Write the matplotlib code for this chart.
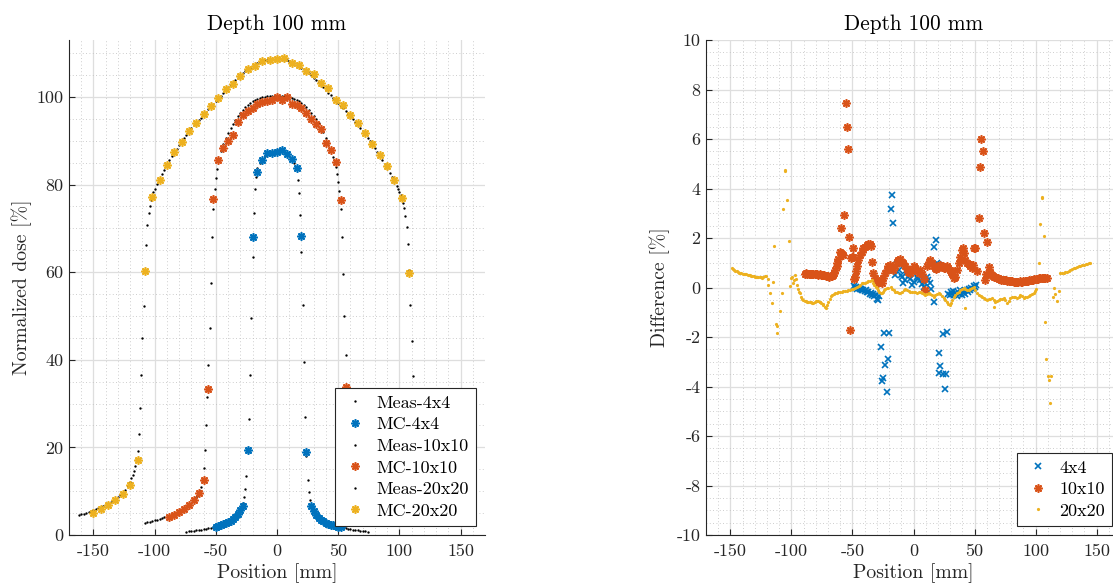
import numpy as np
import matplotlib
matplotlib.use("Agg")
import matplotlib.pyplot as plt
from matplotlib.ticker import MultipleLocator

plt.rcParams['font.family'] = ['cmr10', 'DejaVu Serif']
plt.rcParams['axes.unicode_minus'] = False
plt.rcParams['mathtext.fontset'] = 'cm'

BLUE = '#0072BD'
ORANGE = '#D95319'
YELLOW = '#EDB120'
DARK = '#262626'

# ---- dose profiles (position in mm, dose in %) ----
meas20_x = np.concatenate([np.arange(-162, -121, 2), np.arange(-121, -99, 1),
                           np.arange(-98, 99, 2), np.arange(99, 122, 1),
                           np.arange(122, 163, 2)])
meas20_y = [4.5, 4.7, 4.85, 5.0, 5.2, 5.4, 5.6, 5.85, 6.1, 6.35,
            6.6, 6.9, 7.2, 7.5, 7.85, 8.2, 8.6, 9.1, 9.6, 10.3, 11.1,
            11.6, 12.2, 12.9, 13.7, 14.6, 15.7, 17.2, 19.2, 23.0, 29.0,
            36.5, 45.0, 52.2, 60.0, 66.2, 70.7, 73.4, 75.2, 76.5, 77.5, 78.3, 79.0,
            80.2, 81.1, 82.3, 83.4, 84.5, 85.5, 86.5, 87.4, 88.2, 89.0,
            89.8, 90.6, 91.4, 92.1, 92.8, 93.5, 94.1, 94.7, 95.3, 95.9,
            96.5, 97.2, 97.8, 98.4, 99.1, 99.7, 100.3, 101.0, 101.6, 102.2,
            102.8, 103.3, 103.9, 104.4, 104.9, 105.4, 105.9, 106.3, 106.7, 107.1,
            107.4, 107.7, 108.0, 108.2, 108.4, 108.5, 108.6, 108.7, 108.7,
            108.7,
            108.7, 108.6, 108.5, 108.4, 108.2, 108.0, 107.7, 107.4, 107.1, 106.7,
            106.3, 105.9, 105.4, 104.9, 104.4, 103.9, 103.3, 102.8, 102.2, 101.6,
            101.0, 100.4, 99.8, 99.2, 98.6, 98.0, 97.4, 96.8, 96.1, 95.5,
            94.9, 94.3, 93.6, 92.9, 92.2, 91.5, 90.7, 89.9, 89.1, 88.3,
            87.4, 86.5, 85.6, 84.7, 83.7, 82.7, 81.7, 80.6, 79.6,
            79.0, 78.4, 77.6, 76.7, 75.8, 74.6, 72.9, 70.3, 66.5, 60.5,
            52.5, 44.2, 36.2, 28.5, 22.5, 18.8, 16.8, 15.4, 14.4, 13.5,
            12.7, 12.0, 11.4,
            11.0, 10.2, 9.5, 9.0, 8.5, 8.1, 7.8, 7.4, 7.1, 6.8,
            6.5, 6.3, 6.0, 5.8, 5.5, 5.3, 5.1, 4.9, 4.8, 4.6, 4.4]

meas10_x = np.concatenate([np.arange(-108, -65, 2), np.arange(-65, -48, 1),
                           np.arange(-48, 49, 2), np.arange(49, 66, 1),
                           np.arange(66, 109, 2)])
meas10_y = [2.75, 2.9, 3.05, 3.2, 3.35, 3.5, 3.65, 3.8, 4.0, 4.2,
            4.4, 4.6, 4.85, 5.1, 5.4, 5.7, 6.05, 6.45, 6.9, 7.4, 8.0, 8.6,
            8.95, 9.3, 10.0, 11.0, 12.6, 15.2, 19.4, 25.0, 31.6, 38.8,
            47.2, 57.5, 68.0, 74.5, 78.9, 81.5, 83.5,
            85.3, 87.7, 89.3, 90.6, 91.8, 92.9, 93.9, 94.8, 95.6, 96.4,
            97.0, 97.6, 98.1, 98.6, 99.0, 99.3, 99.6, 99.8, 100.0, 100.1,
            100.2, 100.3, 100.3, 100.3, 100.3, 100.3, 100.3, 100.2, 100.1, 100.0,
            99.8, 99.6, 99.3, 99.0, 98.6, 98.1, 97.6, 97.0, 96.4, 95.7,
            94.9, 94.0, 93.0, 91.9, 90.7, 89.4, 87.9, 86.2, 84.0,
            82.4, 80.6, 78.5, 74.5, 68.0, 59.5, 50.0, 41.0, 33.5, 26.0,
            20.0, 15.5, 12.8, 11.2, 10.1, 9.3, 8.9,
            8.6, 7.9, 7.3, 6.8, 6.35, 5.95, 5.6, 5.3, 5.0, 4.75,
            4.5, 4.3, 4.1, 3.9, 3.75, 3.6, 3.45, 3.3, 3.15, 3.0, 2.85, 2.7]

meas4_x = np.concatenate([np.arange(-74, -27, 2), np.arange(-27, -16, 1),
                          np.arange(-16, 17, 2), np.arange(17, 28, 1),
                          np.arange(28, 75, 2)])
meas4_y = [0.75, 0.82, 0.9, 0.97, 1.05, 1.13, 1.22, 1.32, 1.42, 1.55,
           1.7, 1.85, 2.0, 2.2, 2.4, 2.6, 2.85, 3.1, 3.4, 3.8, 4.3, 5.0, 5.9, 7.2,
           8.6, 10.5, 13.5, 19.0, 26.5, 36.5, 49.5, 63.5, 73.5, 79.0, 81.8,
           83.8, 85.0, 85.9, 86.6, 87.1, 87.5, 87.7, 87.8, 87.8, 87.8, 87.7,
           87.5, 87.1, 86.6, 85.9, 85.0, 83.8,
           81.0, 78.0, 73.0, 64.5, 52.5, 39.5, 27.0, 18.0, 12.5, 9.8, 8.0,
           7.0, 5.7, 4.8, 4.2, 3.7, 3.3, 3.0, 2.75, 2.5, 2.3,
           2.1, 1.95, 1.8, 1.65, 1.5, 1.4, 1.3, 1.2, 1.12, 1.05, 0.97, 0.9, 0.83, 0.76]

mc4_x = [-50, -48, -46, -44, -42, -40, -38, -36, -34, -32, -30, -28,
         -24, -20, -16, -12, -8, -4, 0, 4, 8, 12, 16, 20, 24,
         28, 30, 32, 34, 36, 38, 40, 42, 44, 46, 48, 50, 52]
mc4_y = [1.85, 2.05, 2.25, 2.5, 2.7, 2.95, 3.3, 3.7, 4.1, 4.7, 5.6, 6.6,
         19.4, 68.0, 82.9, 85.7, 87.1, 87.1, 87.5, 87.8, 86.9, 85.9, 83.7, 68.2, 19.0,
         6.6, 5.5, 4.6, 3.9, 3.4, 3.1, 2.8, 2.5, 2.35, 2.2, 2.05, 1.85, 1.75]

mc10_x = np.arange(-88, 89, 4)
mc10_y = [4.0, 4.65, 5.26, 5.94, 6.8, 8.0, 9.5, 12.5, 33.3, 76.8,
          85.7, 88.4, 89.9, 91.4, 94.3, 95.8, 96.8, 97.5, 98.3, 98.9,
          99.0, 99.4, 100.0, 99.4, 100.0, 98.4, 98.1, 97.5, 96.4, 94.9,
          93.9, 92.6, 89.4, 88.0, 85.2, 76.4, 33.9, 12.5, 9.4, 8.0,
          6.8, 5.9, 5.3, 4.6, 4.0]

mc20_x = np.arange(-150, 151, 6)
mc20_y = [4.95, 5.87, 6.78, 8.0, 9.4, 11.4, 17.1, 60.2, 77.1, 81.0,
          84.5, 87.5, 89.8, 92.2, 94.1, 96.0, 97.9, 99.7, 101.9, 103.0,
          104.8, 106.4, 107.0, 108.3, 108.5, 108.6, 108.8, 107.8, 107.3, 105.9,
          105.2, 103.1, 102.1, 99.4, 98.1, 95.8, 94.0, 91.8, 89.3, 86.7,
          84.3, 81.0, 77.0, 59.8, 17.0, 11.3, 9.3, 7.9, 6.8, 5.8, 4.9]

# ---- differences MC - measurement (%) ----
diff4_x = [-49, -48, -47, -46, -45, -44, -43, -42, -41, -40,
           -39, -38, -37, -36, -35, -34, -33, -32, -31, -30, -29, -28,
           -26.7, -25.7, -24.8, -23.8, -23.0, -21.8, -20.5, -19.7, -18.8, -17.7, -16.6,
           -15.0, -13.6, -12.0, -10.5, -9.5, -8.2, -7.0, -5.4, -4.0, -2.5,
           -1.0, 0.0, 1.4, 2.8, 4.0, 5.5, 7.0, 8.2, 9.6, 11.0,
           12.0, 13.2, 14.5, 16.4,
           17.2, 18.3, 18.9, 20.5, 20.5, 21.3, 22.1, 24.0, 24.3, 25.4, 26.5, 27.3,
           28.5, 29.5, 30.5, 31.5, 32.5, 33.5, 34.5, 35.5, 36.5, 37.5,
           38.5, 39.5, 40.5, 41.5, 42.5, 43.5, 44.5, 45.5, 46.5, 47.5,
           48.5, 49.5, 50.5, 51.5]
diff4_y = [0.05, 0.0, 0.02, -0.05, -0.03, -0.08, -0.05, -0.12, -0.1, -0.15,
           -0.12, -0.2, -0.18, -0.25, -0.22, -0.3, -0.28, -0.35, -0.3, -0.45, -0.5, -0.35,
           -2.39, -3.77, -3.64, -1.83, -3.13, -4.24, -2.9, -1.83, 3.16, 3.72, 2.59,
           0.5, 0.95, 0.7, 0.5, 0.44, 0.17, 0.3, 0.64, 0.5, 0.35,
           0.1, 0.23, 0.71, 0.44, 0.35, 0.3, 0.15, 0.03, 0.17, 0.44,
           0.3, 0.2, -0.07, -0.57,
           1.65, 1.92, 0.98, 0.91, -2.63, -3.47, -3.16, -3.49, -1.86, -4.11, -3.49, -1.8,
           -0.25, -0.32, -0.2, -0.28, -0.15, -0.3, -0.22, -0.35, -0.18, -0.25,
           -0.12, -0.3, -0.2, -0.15, -0.28, -0.1, -0.2, -0.05, -0.12, 0.0,
           -0.08, 0.05, 0.02, 0.12]

diff10_left_x = np.arange(-89, -62, 1)
diff10_left_y = [0.56, 0.57, 0.56, 0.55, 0.56, 0.55, 0.55, 0.54, 0.54, 0.55,
                 0.53, 0.52, 0.53, 0.51, 0.50, 0.50, 0.49, 0.47, 0.46, 0.45,
                 0.44, 0.45, 0.47, 0.52, 0.60, 0.72, 0.85]
diff10_mid_x = [-62.3, -61.5, -60.6, -59.8, -59.0, -58.2, -57.5, -56.8, -55.7, -54.6,
                -53.8, -53.0, -51.9, -51.0, -50.5, -49.7, -49.2, -48.6, -47.8, -47.0,
                -46.4, -45.1, -43.7, -42.4, -41.0, -39.6, -38.2, -37.0, -36.0, -34.6,
                -33.6, -32.8, -31.4, -30.0, -28.7, -27.3, -25.9, -24.6, -23.2, -21.9,
                -20.5, -19.1, -17.8, -16.4, -15.0, -13.6, -12.3, -10.9, -9.5, -8.2,
                -6.8, -5.4, -4.1, -2.7, -1.3, 0.0, 1.4, 2.8, 4.1, 5.5,
                6.8, 8.2, 9.6, 11.0, 12.3, 13.7, 15.1, 16.4, 17.5, 18.6,
                19.6, 20.5, 21.9, 23.0, 24.0, 25.0, 26.0, 27.3, 28.4, 29.5,
                30.5, 31.4, 32.8, 34.2, 35.5, 36.9, 38.3, 39.6, 40.4, 41.3,
                42.3, 43.7, 45.1, 46.4, 47.8, 48.5, 49.2, 50.5, 51.9, 53.3,
                54.4, 55.5, 56.6, 57.7, 58.7, 59.6, 60.4, 61.5, 62.3]
diff10_mid_y = [0.98, 1.15, 1.42, 2.42, 1.38, 1.35, 1.32, 2.93, 7.45, 6.5,
                5.6, 2.03, -1.72, 1.2, 1.25, 1.58, 1.22, 0.33, 0.44, 0.65,
                0.85, 1.11, 1.31, 1.45, 1.58, 1.65, 1.72, 1.76, 1.74, 1.68,
                1.04, 0.6, 0.38, 0.29, 0.17, 0.23, 0.19, 0.37, 0.57, 0.71,
                0.85, 0.91, 0.77, 0.71, 0.85, 1.04, 1.11, 1.14, 1.04, 0.98,
                0.85, 0.73, 0.64, 0.57, 0.71, 0.85, 0.78, 0.68, 0.57, 0.71,
                0.55, 0.33, -0.12, 0.85, 1.04, 1.11, 0.98, 0.85, 0.8, 0.74,
                0.8, 0.85, 0.91, 0.88, 0.85, 0.8, 0.78, 0.85, 0.78, 0.71,
                0.62, 0.55, 0.38, 0.44, 0.7, 0.98, 1.25, 1.51, 1.58, 1.4,
                1.11, 1.01, 0.95, 0.85, 0.78, 0.9, 1.58, 1.58, 0.68, 2.82,
                4.88, 6.0, 5.51, 2.19, 0.3, 0.55, 1.83, 0.84, 0.62]
diff10_right_x = np.arange(63, 110, 1)
diff10_right_y = [0.55, 0.5, 0.47, 0.44, 0.42, 0.4, 0.37, 0.35, 0.33, 0.32,
                  0.31, 0.30, 0.30, 0.29, 0.28, 0.27, 0.26, 0.25, 0.25, 0.24,
                  0.24, 0.24, 0.23, 0.24, 0.25, 0.24, 0.24, 0.25, 0.26, 0.26,
                  0.27, 0.28, 0.29, 0.30, 0.31, 0.32, 0.34, 0.35, 0.35, 0.36,
                  0.37, 0.38, 0.38, 0.38, 0.39, 0.38, 0.38]

diff20_left_x = np.arange(-149, -120, 1)
diff20_left_y = [0.8, 0.75, 0.7, 0.68, 0.66, 0.63, 0.6, 0.58, 0.57, 0.56,
                 0.55, 0.55, 0.53, 0.52, 0.5, 0.5, 0.48, 0.47, 0.46, 0.44,
                 0.44, 0.42, 0.41, 0.41, 0.42, 0.4, 0.43, 0.45, 0.46]
diff20_mid_x = [-119.5, -118.8, -117.5, -116.1, -114.8, -114.2, -112.5, -112.0, -111.5, -109.3,
                -107.9, -107.1, -105.2, -104.9, -103.8, -102.4, -101.0, -100.2, -99.7, -98.9,
                -98.0, -97.0, -96.3, -95.6, -94.5, -93.5, -92.9, -92.0, -91.0, -90.2,
                -89.0, -88.0, -87.0, -86.1, -85.0, -84.0, -83.0, -82.0, -81.0, -80.0,
                -79.2, -78.0, -77.0, -76.5, -75.5, -74.5, -73.8, -72.8, -71.6, -70.5,
                -69.7, -68.5, -67.5, -66.9, -65.5, -64.0, -62.8, -61.5, -60.0, -58.7,
                -57.5, -56.0, -54.6, -53.5, -52.0, -50.5, -49.5, -48.0, -46.4, -45.0,
                -44.0, -42.3, -41.0, -40.0, -38.2, -37.0, -36.0, -34.1, -33.0, -32.0,
                -31.0, -30.0, -29.0, -28.0, -26.9, -25.9, -25.0, -24.0, -23.0, -21.8,
                -20.5, -18.5, -17.5, -16.2, -15.0, -13.5, -12.0, -10.9, -9.5, -8.0,
                -6.8, -5.5, -4.0, -2.7, -1.4, 0.0, 1.4, 2.8, 4.1, 5.5,
                7.0, 8.2, 9.6, 11.0, 12.3, 13.7, 15.0, 16.4, 17.8, 19.1,
                20.5, 21.9, 23.2, 24.6, 26.0, 27.3, 28.4, 29.5, 30.5, 31.6,
                32.8, 34.0, 35.5, 36.9, 38.2, 39.6, 41.0, 42.3, 42.4, 43.7,
                45.1, 46.4, 47.8, 49.2, 50.5, 52.0, 53.5, 55.0, 56.1, 57.5,
                58.8, 60.2, 61.5, 62.9, 64.3, 65.6, 65.6, 67.0, 68.4, 69.7,
                71.0, 72.4, 73.8, 75.2, 76.6, 78.0, 79.3, 80.6, 82.0, 83.4,
                84.8, 86.1, 87.5, 88.9, 90.2, 91.6, 92.9, 94.3, 95.7, 97.0,
                98.4, 99.5, 100.6, 102.5, 103.9, 104.9, 105.2, 106.6, 108.0, 108.8,
                109.9, 110.7, 112.0, 112.6, 114.2, 114.8, 115.6, 117.5, 118.9]
diff20_mid_y = [0.35, 0.1, -0.21, -0.61, 0.21, 1.69, -1.47, -1.85, -1.56, -0.94,
                -0.24, 3.16, 4.75, 4.72, 3.54, 1.88, 0.06, 0.4, 0.44, 0.17,
                0.3, 0.5, 0.35, 0.1, -0.05, -0.18, -0.24, -0.4, -0.48, -0.5,
                -0.55, -0.55, -0.57, -0.57, -0.58, -0.6, -0.62, -0.64, -0.58, -0.55,
                -0.53, -0.55, -0.57, -0.57, -0.62, -0.68, -0.71, -0.78, -0.84, -0.7,
                -0.57, -0.45, -0.35, -0.3, -0.27, -0.24, -0.21, -0.2, -0.19, -0.17,
                -0.16, -0.15, -0.13, -0.11, -0.09, -0.07, -0.05, -0.01, 0.03, 0.08,
                0.12, 0.17, 0.19, 0.2, 0.23, 0.25, 0.27, 0.3, 0.2, 0.1,
                0.03, -0.03, -0.1, -0.17, -0.22, -0.24, -0.18, -0.12, -0.07, -0.03,
                0.0, 0.03, -0.05, -0.12, -0.17, -0.2, -0.22, -0.24, -0.18, -0.12,
                -0.07, -0.1, -0.14, -0.17, -0.19, -0.2, -0.2, -0.21, -0.19, -0.17,
                -0.22, -0.27, -0.3, -0.27, -0.24, -0.28, -0.32, -0.37, -0.3, -0.25,
                -0.21, -0.28, -0.36, -0.44, -0.52, -0.6, -0.66, -0.71, -0.62, -0.5,
                -0.37, -0.3, -0.23, -0.17, -0.12, -0.07, -0.03, -0.06, -0.84, -0.1,
                -0.1, -0.06, -0.02, 0.03, -0.12, -0.24, -0.3, -0.34, -0.37, -0.42,
                -0.46, -0.5, -0.48, -0.46, -0.44, -0.5, -0.78, -0.57, -0.53, -0.5,
                -0.48, -0.46, -0.44, -0.52, -0.64, -0.55, -0.44, -0.4, -0.37, -0.4,
                -0.44, -0.38, -0.3, -0.36, -0.44, -0.4, -0.37, -0.33, -0.3, -0.27,
                -0.24, -0.15, -0.07, 0.98, 2.55, 3.62, 3.67, 2.09, -1.41, -2.9,
                -3.58, -3.74, -4.68, -3.58, -0.37, 0.0, -0.28, -0.55, -0.13]
diff20_right_x = [120.2, 121.5, 123.0, 124.5, 125.7, 127.0, 128.5, 130.0, 131.1, 132.5,
                  134.0, 135.5, 136.6, 138.0, 139.5, 141.0, 142.3, 143.4, 144.5]
diff20_right_y = [0.57, 0.58, 0.6, 0.62, 0.64, 0.67, 0.7, 0.74, 0.77, 0.8,
                  0.83, 0.85, 0.87, 0.9, 0.92, 0.94, 0.96, 0.98, 0.99]

diff10_x = np.concatenate([diff10_left_x, diff10_mid_x, diff10_right_x])
diff10_y = np.concatenate([diff10_left_y, diff10_mid_y, diff10_right_y])
diff20_x = np.concatenate([diff20_left_x, diff20_mid_x, diff20_right_x])
diff20_y = np.concatenate([diff20_left_y, diff20_mid_y, diff20_right_y])

ASTER = (8, 2, 0)


def style_axes(ax, ymax, ymin, ymajor, yminor):
    ax.set_xlim(-170, 170)
    ax.set_ylim(ymin, ymax)
    ax.xaxis.set_major_locator(MultipleLocator(50))
    ax.xaxis.set_minor_locator(MultipleLocator(10))
    ax.yaxis.set_major_locator(MultipleLocator(ymajor))
    ax.yaxis.set_minor_locator(MultipleLocator(yminor))
    ax.grid(which='major', color='#dedede', lw=0.9)
    ax.grid(which='minor', color='#bdbdbd', lw=0.6, ls=(0, (1, 3)))
    ax.set_axisbelow(True)
    ax.spines['top'].set_visible(False)
    ax.spines['right'].set_visible(False)
    for s in ('left', 'bottom'):
        ax.spines[s].set_color(DARK)
        ax.spines[s].set_linewidth(0.8)
    ax.tick_params(which='major', direction='in', length=4, width=0.8,
                   colors=DARK, labelsize=13)
    ax.tick_params(axis='x', pad=6)
    ax.tick_params(axis='y', pad=4)
    ax.tick_params(which='minor', length=0)
    ax.set_xlabel('Position [mm]', fontsize=14.2, color=DARK, labelpad=3)
    ax.set_title('Depth 100 mm', fontsize=15.3, pad=7)


fig = plt.figure(figsize=(11.13, 5.88), dpi=100)
ax1 = fig.add_axes([69 / 1113, 53 / 588, 416 / 1113, 495 / 588])
ax2 = fig.add_axes([706 / 1113, 53 / 588, 415 / 1113, 495 / 588])

# left: dose profiles
dot = dict(ls='none', marker='o', ms=1.7, mew=0, color='black')
star = dict(ls='none', marker=ASTER, ms=6, mew=1.2)
ax1.plot(meas4_x, meas4_y, label='Meas-4x4', **dot)
ax1.plot(mc4_x, mc4_y, label='MC-4x4', color=BLUE, **star)
ax1.plot(meas10_x, meas10_y, label='Meas-10x10', **dot)
ax1.plot(mc10_x, mc10_y, label='MC-10x10', color=ORANGE, **star)
ax1.plot(meas20_x, meas20_y, label='Meas-20x20', **dot)
ax1.plot(mc20_x, mc20_y, label='MC-20x20', color=YELLOW, **star)
style_axes(ax1, 113, 0, 20, 5)
ax1.set_ylabel('Normalized dose [%]', fontsize=14.2, color=DARK, labelpad=3)

# right: differences
ax2.plot(diff4_x, diff4_y, ls='none', marker='x', ms=5, mew=1.2, color=BLUE, label='4x4')
ax2.plot(diff10_x, diff10_y, ls='none', marker=ASTER, ms=6, mew=1.2, color=ORANGE, label='10x10')
ax2.plot(diff20_x, diff20_y, ls='none', marker='o', ms=2.3, mew=0, color=YELLOW, label='20x20')
style_axes(ax2, 10, -10, 2, 0.5)
ax2.set_ylabel('Difference [%]', fontsize=14.2, color=DARK, labelpad=5)

for ax in (ax1, ax2):
    leg = ax.legend(loc='lower right', fontsize=13, numpoints=1, borderaxespad=0.5,
                    borderpad=0.4, handlelength=1.5, handletextpad=0.4,
                    labelspacing=0.33, fancybox=False, framealpha=1,
                    edgecolor=DARK)
    leg.get_frame().set_linewidth(0.8)

fig.savefig('out.png', dpi=100)
